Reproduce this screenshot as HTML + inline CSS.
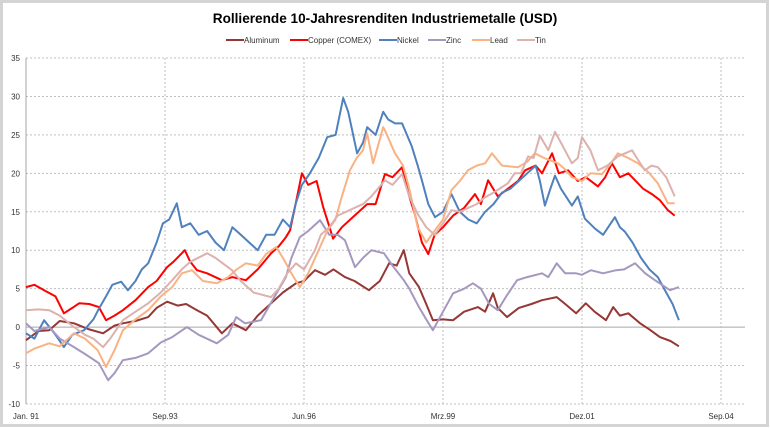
<!DOCTYPE html>
<html><head><meta charset="utf-8"><style>
html,body{margin:0;padding:0;background:#fff}
svg{display:block;font-family:"Liberation Sans",sans-serif}
</style></head><body>
<svg id="chart" width="770" height="428" viewBox="0 0 770 428" xmlns="http://www.w3.org/2000/svg">
<rect x="1.5" y="1.5" width="766" height="424" fill="#fff" stroke="#d4d4d4" stroke-width="3"/>
<text x="385" y="23" text-anchor="middle" font-size="13.6" font-weight="bold" fill="#000">Rollierende 10-Jahresrenditen Industriemetalle (USD)</text>
<g id="legend" font-size="8" fill="#333"></g>
<g id="grid"></g>
<g id="axes" font-size="8" fill="#333"></g>
<g id="series"></g>
</svg>
<script>
const yTicks = [35,30,25,20,15,10,5,0,-5,-10];
const xTickLabels = ["Jan. 91","Sep.93","Jun.96","Mrz.99","Dez.01","Sep.04"];
const xTickMonths = [0,33,66,99,132,165];
const seriesNames = ["Aluminum","Copper (COMEX)","Nickel","Zinc","Lead","Tin"];
const aluminumMonths=[0,3,5.5,8,11.4,15,18.3,21,23,26,29,31,33.5,36,38,40.6,43,46.5,49,52.2,55,58.2,61,64.1,66,68.6,71,73,75.7,78,81.4,84,86.2,88,89.7,91,93.3,95,96.6,99,101.4,104,107.3,109,110.9,112,114.2,117,120,122.5,126,128,130.6,132.9,135,137.7,139.4,141,143,145.8,148,150.5,153,155];
const aluminumValues=[-1.7,-0.5,-0.4,0.8,0.5,-0.3,-0.8,0.2,0.5,0.8,1.3,2.5,3.3,2.8,3,2.2,1.5,-0.8,0.5,-0.4,1.5,3.1,4.5,5.7,6,7.4,6.8,7.5,6.5,6,4.8,6,8.3,8,10,7,5.2,3,0.9,1,0.9,2,2.6,2,4.4,2.5,1.3,2.5,3,3.5,3.9,3,1.8,3.1,2,0.9,2.6,1.5,1.8,0.5,-0.3,-1.3,-1.8,-2.5];
const copperMonths=[0,2,4.3,7,9,11,12.6,15,17.3,19,21,23,26,29,31,33.5,35,37.7,39,40.6,43,46.5,49,52.2,55,58.2,60,61.7,62.7,64,65.5,67,69,70.5,72.9,75,77,79,81,83,85.2,87,89.3,91,92.3,94,95.5,97,99,101.4,104,106.6,108,109.7,112,114.4,116.8,118.5,121,122.5,124.9,126.5,128.7,131,132.9,135.8,137.5,139.1,141,143,144.6,146.5,148.6,150.5,152.4,154];
const copperValues=[5.2,5.5,4.8,4,1.8,2.5,3.1,3,2.6,0.9,1.5,2.2,3.5,5.2,6,7.8,8.5,10,8.5,7.4,7,6.1,6.5,6.1,7.5,9.6,10.5,11.7,12.6,16,20,18.5,19,15.7,11.5,13,14,15,16,16,19.9,19.5,20.8,17,14.7,11,9.5,12,13,14.5,15.5,17.3,16,19.1,17,18,19,20.4,21,20,22.6,20,20.4,19,19.5,18.3,19.5,21.3,19.5,20,19.1,18,17.3,16.5,15.2,14.5];
const nickelMonths=[0,2,4.3,7,9,11,13.8,16,17.3,19,20.5,22.6,24.2,26,27.5,29,31,32.5,34,35.8,37,39,41,43,45,47,49,51,53,55,57,59,61,62.7,64,65.5,67.4,69.5,71.5,73.5,75.3,76.5,78.6,80,81,83,84.8,86,87.6,89.3,91.6,93,94,95.5,97.1,99,101,103,105,107,109,111,113,115,117,119,121,122,123.2,124.5,125.6,127,129.6,131,132.7,135.1,137,139.8,141,142.2,144,146,148,150,152,153.5,155];
const nickelValues=[-0.8,-1.5,0.9,-1,-2.6,-1,-0.4,1,2.4,4,5.5,5.9,4.8,6,7.5,8.3,11,13.5,14,16.1,13,13.5,12,12.5,11,10,13,12,11,10,12,12,14,13,16,18.5,20,22,24.7,25,29.8,28,22.6,24,26,25,28,27,26.5,26.5,23.5,21,19.1,16,14.3,15,17.3,15,14,13.5,15,16,17.5,18,19,20,21,19,15.8,18,19.7,18,15.8,17,14.1,12.8,12,14.3,13,12.4,11,9,7.5,6.5,4.5,3,0.9];
const zincMonths=[0,2,5.5,8,11.4,14,17.3,19.5,21,23,26,29,32,34.7,38.2,41,45.3,48,49.9,52,55.8,58,61.7,63,65,67,69.8,72,74,75.7,78.1,80,82,85,87,89.7,91,93.3,95,96.6,99,101.4,104,106.1,108,110,112,114,116.6,119,122.5,124,126,128,130.6,132,134.1,137,140.1,142,144.6,147,149.3,152.9,155];
const zincValues=[0.5,-0.5,0,-1.5,-2.6,-3.5,-4.7,-6.9,-6,-4.3,-4,-3.4,-2,-1.3,0,-1,-2.1,-1,1.3,0.5,0.9,3,6.5,9,11.7,12.5,13.9,12,12,11.3,7.8,9,10,9.6,8,6.1,5,2.6,1,-0.4,2,4.4,5,5.7,5,3,2.2,4,6.1,6.5,7,6.5,8.3,7,7,6.8,7.4,7,7.4,7.5,8.3,7,6.1,4.8,5.2];
const leadMonths=[0,2,5.5,8,11.4,14,17,19,21,23,26,29,32,34.7,37,39.4,42,45.3,48,50,52.2,55,57,59.4,61,63,65,67,69.8,71.5,73.4,75,76.9,78.5,80,81,82.4,84.8,85.2,87.6,89.5,91,93,95,97.1,99,101,103,104.9,107,109,110.6,113,116.8,119,120.8,123,126.3,128,129.6,132,134,136.7,138.5,140.5,143,145.3,148,150,152.4,154];
const leadValues=[-3.4,-2.8,-2.1,-2.5,-0.8,-1.5,-3,-5.2,-3,-0.4,1,2.2,4,5.2,7,7.4,6,5.7,6.5,7.5,8.3,8,9.5,10.4,9,7,5.2,7,10.4,12.5,13.9,17,20.4,22,23,25.2,21.3,26,25.6,22.6,21,18,13,11,12.6,14,17.8,19,20.4,21,21.3,22.6,21,20.8,21.5,22.6,22,21.3,20.5,19.5,19,20,19.9,21,22.6,22,21.3,20,18.7,16.1,16.1];
const tinMonths=[0,3,5.5,8,11.4,14,16,18.3,20,23,26,29,32,34.7,37,39,43,45,48.9,51,54,58.2,60,62,64.1,66,68.6,70,72,74,76,78,80,82,85.2,87,89.3,91,93,95,97,99,101,103,105,107,109,111,114.4,116,117.5,119.2,120.5,122,124,125.6,127,129.6,131,132,134,135.8,138,140.5,143.9,145,146.9,148.5,150,152,154];
const tinValues=[2.2,2.3,2.2,1.5,0,-1,-1.5,-2.6,-1.5,0.9,2,3.1,4.5,6.1,7.5,8.5,9.6,9,7.4,6,4.5,3.9,5,7,8.3,7.5,10,12,13,14.5,15,15.5,16,17,19.1,18.5,19.9,17,14.7,13,12,13.5,15.2,15,15.5,16,16.9,17.5,18.7,20,20,22.2,22,24.9,23,25.4,24,21.3,22,24.7,23,20.4,21,22.2,23,22,20.4,21,20.8,19.5,17];

const NS="http://www.w3.org/2000/svg";
const L=26,R=745,T=58,B=404,XR=721;
const xScale=m=>L+m*(XR-L)/165;
const yScale=v=>T+(35-v)*(B-T)/45;
function mk(tag,attrs,parent){const e=document.createElementNS(NS,tag);for(const k in attrs)e.setAttribute(k,attrs[k]);parent.appendChild(e);return e;}
const grid=document.getElementById('grid'),axes=document.getElementById('axes'),ser=document.getElementById('series'),leg=document.getElementById('legend');
yTicks.forEach(v=>{
  const y=yScale(v);
  const ln=mk('line',{x1:L,x2:R,y1:y,y2:y,stroke:v===0?'#a6a6a6':'#bfbfbf','stroke-width':1,'stroke-dasharray':v===0?'':'2,2'},grid);
  
  
  const t=mk('text',{x:20,y:y+3,'text-anchor':'end'},axes);t.textContent=v;
  
  
});
xTickMonths.forEach((m,i)=>{
  const x=xScale(m);
  if(i>0){const ln=mk('line',{x1:x,x2:x,y1:T,y2:B,stroke:'#bfbfbf','stroke-width':1,'stroke-dasharray':'2,2'},grid);
  
  }
  const t=mk('text',{x:x,y:419,'text-anchor':'middle'},axes);t.textContent=xTickLabels[i];
  
  
});
const yax=mk('line',{x1:L,x2:L,y1:T,y2:B,stroke:'#a6a6a6','stroke-width':1},axes);


const colors=["#953735","#ff0000","#4f81bd","#a598bf","#f9b283","#dcb1ae"];
const allM=[aluminumMonths,copperMonths,nickelMonths,zincMonths,leadMonths,tinMonths];
const allV=[aluminumValues,copperValues,nickelValues,zincValues,leadValues,tinValues];
const keys=["aluminum","copper","nickel","zinc","lead","tin"];
allM.forEach((ms,s)=>{
  const d=ms.map((m,i)=>(i?'L':'M')+xScale(m).toFixed(1)+','+yScale(allV[s][i]).toFixed(1)).join('');
  const p=mk('path',{d:d,fill:'none',stroke:colors[s],'stroke-width':2,'stroke-linejoin':'round'},ser);
  
  
});
const legX=[226,290,379,428,472,517];
seriesNames.forEach((n,i)=>{
  const x=legX[i];
  const ln=mk('line',{x1:x,x2:x+18,y1:40,y2:40,stroke:colors[i],'stroke-width':2},leg);
  
  
  const t=mk('text',{x:x+18,y:43},leg);t.textContent=n;
  
  
});
</script>
</body></html>
